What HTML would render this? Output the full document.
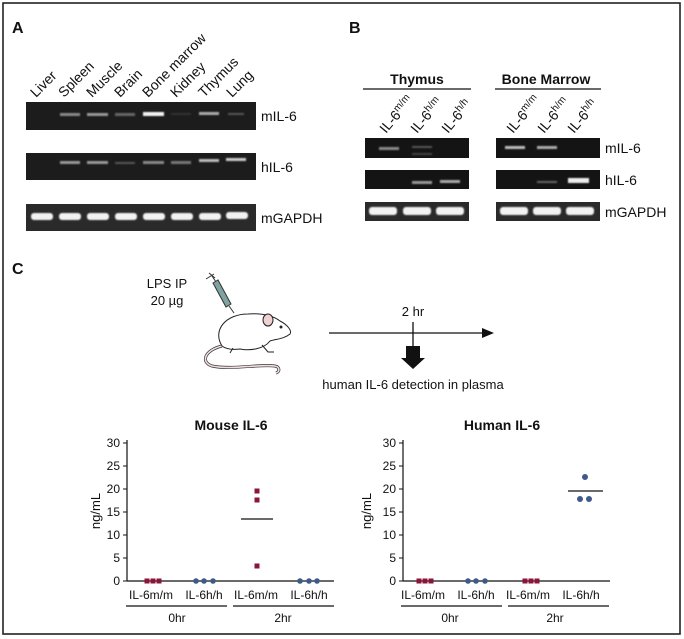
<!DOCTYPE html>
<html><head><meta charset="utf-8"><style>
html,body{margin:0;padding:0;background:#fff}
svg{display:block}
text{font-family:"Liberation Sans",Arial,sans-serif;fill:#111}
</style></head><body>
<svg width="684" height="639" viewBox="0 0 684 639" xmlns="http://www.w3.org/2000/svg">
<defs>
<filter id="blur" x="-20%" y="-50%" width="140%" height="200%"><feGaussianBlur stdDeviation="0.8"/></filter>
</defs>
<rect x="3" y="3" width="677" height="631" fill="#fff" stroke="#222" stroke-width="1.6"/>

<!-- Panel A -->
<text x="12" y="33" font-size="16" font-weight="bold">A</text>
<g font-size="14">
<text transform="translate(36,98) rotate(-45)">Liver</text>
<text transform="translate(64,98) rotate(-45)">Spleen</text>
<text transform="translate(92,98) rotate(-45)">Muscle</text>
<text transform="translate(120,98) rotate(-45)">Brain</text>
<text transform="translate(148,98) rotate(-45)">Bone marrow</text>
<text transform="translate(176,98) rotate(-45)">Kidney</text>
<text transform="translate(204,98) rotate(-45)">Thymus</text>
<text transform="translate(232,98) rotate(-45)">Lung</text>
</g>
<rect x="26" y="102" width="230" height="28" fill="#1c1c1c"/>
<rect x="26" y="153" width="230" height="27" fill="#1c1c1c"/>
<rect x="26" y="204" width="230" height="27" fill="#2a2a2a"/>
<g filter="url(#blur)">
<rect x="60" y="113" width="20" height="3" fill="#888"/>
<rect x="87" y="113" width="21" height="3" fill="#999"/>
<rect x="115" y="113" width="20" height="3" fill="#666"/>
<rect x="143" y="112" width="21" height="4" fill="#f4f4f4"/>
<rect x="171" y="113" width="20" height="2" fill="#333"/>
<rect x="199" y="112" width="20" height="3" fill="#aaa"/>
<rect x="228" y="113" width="16" height="2" fill="#555"/>

<rect x="60" y="161" width="20" height="3" fill="#999"/>
<rect x="87" y="161" width="21" height="3" fill="#999"/>
<rect x="115" y="162" width="20" height="2" fill="#555"/>
<rect x="143" y="161" width="21" height="3" fill="#888"/>
<rect x="171" y="161" width="20" height="3" fill="#777"/>
<rect x="199" y="159" width="20" height="3" fill="#bbb"/>
<rect x="226" y="158" width="20" height="3" fill="#ccc"/>

<rect x="31" y="213" width="22" height="7" rx="3" fill="#f2f2f2"/>
<rect x="59" y="213" width="22" height="7" rx="3" fill="#f2f2f2"/>
<rect x="87" y="213" width="22" height="7" rx="3" fill="#f2f2f2"/>
<rect x="115" y="213" width="22" height="7" rx="3" fill="#f2f2f2"/>
<rect x="143" y="213" width="22" height="7" rx="3" fill="#f2f2f2"/>
<rect x="171" y="213" width="22" height="7" rx="3" fill="#f2f2f2"/>
<rect x="199" y="213" width="22" height="7" rx="3" fill="#f2f2f2"/>
<rect x="226" y="212" width="22" height="7" rx="3" fill="#f2f2f2"/>
</g>
<g font-size="14">
<text x="261" y="121">mIL-6</text>
<text x="261" y="172">hIL-6</text>
<text x="261" y="223">mGAPDH</text>
</g>

<!-- Panel B -->
<text x="349" y="33" font-size="16" font-weight="bold">B</text>
<text x="417" y="84" font-size="14" font-weight="bold" text-anchor="middle">Thymus</text>
<text x="546" y="84" font-size="14" font-weight="bold" text-anchor="middle">Bone Marrow</text>
<line x1="363" y1="89" x2="471" y2="89" stroke="#111" stroke-width="1.2"/>
<line x1="495" y1="89" x2="601" y2="89" stroke="#111" stroke-width="1.2"/>
<g font-size="14">
<text transform="translate(386,134) rotate(-50)">IL-6<tspan font-size="10" dy="-5">m/m</tspan></text>
<text transform="translate(417,134) rotate(-50)">IL-6<tspan font-size="10" dy="-5">h/m</tspan></text>
<text transform="translate(448,134) rotate(-50)">IL-6<tspan font-size="10" dy="-5">h/h</tspan></text>
<text transform="translate(513,134) rotate(-50)">IL-6<tspan font-size="10" dy="-5">m/m</tspan></text>
<text transform="translate(544,134) rotate(-50)">IL-6<tspan font-size="10" dy="-5">h/m</tspan></text>
<text transform="translate(574,134) rotate(-50)">IL-6<tspan font-size="10" dy="-5">h/h</tspan></text>
</g>
<rect x="365" y="138" width="104" height="20" fill="#141414"/>
<rect x="365" y="170" width="104" height="19" fill="#141414"/>
<rect x="365" y="202" width="104" height="19" fill="#2a2a2a"/>
<rect x="496" y="138" width="104" height="20" fill="#141414"/>
<rect x="496" y="170" width="104" height="19" fill="#141414"/>
<rect x="496" y="202" width="104" height="19" fill="#2a2a2a"/>
<g filter="url(#blur)">
<rect x="379" y="147" width="20" height="3" fill="#888"/>
<rect x="412" y="146" width="20" height="2" fill="#555"/>
<rect x="412" y="153" width="20" height="2" fill="#444"/>
<rect x="412" y="181" width="20" height="3" fill="#999"/>
<rect x="440" y="180" width="20" height="3" fill="#aaa"/>
<rect x="505" y="146" width="20" height="3" fill="#bbb"/>
<rect x="537" y="146" width="20" height="3" fill="#aaa"/>
<rect x="537" y="181" width="20" height="2" fill="#666"/>
<rect x="568" y="178" width="21" height="5" fill="#eee"/>
<rect x="369" y="207" width="28" height="8" rx="3" fill="#f2f2f2"/>
<rect x="403" y="207" width="28" height="8" rx="3" fill="#f2f2f2"/>
<rect x="436" y="207" width="28" height="8" rx="3" fill="#f2f2f2"/>
<rect x="500" y="207" width="28" height="8" rx="3" fill="#f2f2f2"/>
<rect x="533" y="207" width="28" height="8" rx="3" fill="#f2f2f2"/>
<rect x="566" y="207" width="28" height="8" rx="3" fill="#f2f2f2"/>
</g>
<g font-size="14">
<text x="605" y="153">mIL-6</text>
<text x="605" y="185">hIL-6</text>
<text x="605" y="217">mGAPDH</text>
</g>

<!-- Panel C -->
<text x="12" y="274" font-size="16" font-weight="bold">C</text>
<text x="167" y="288" font-size="13" text-anchor="middle">LPS IP</text>
<text x="167" y="305" font-size="13" text-anchor="middle">20 µg</text>
<!-- syringe -->
<g stroke="#333" stroke-width="1">
<line x1="209" y1="273" x2="215" y2="278"/>
<line x1="206" y1="279" x2="214" y2="274"/>
<line x1="212" y1="276" x2="216" y2="282"/>
<polygon points="213,283 218,280 231,304 226,307" fill="#7fa3a0"/>
<line x1="229" y1="306" x2="234" y2="313"/>
</g>
<!-- mouse -->
<g stroke="#222" stroke-width="1" fill="#fff">
<path d="M222,346 C205,350 200,362 212,366 C230,370 260,364 275,366 C280,367 280,372 276,373" fill="none" stroke-width="3" stroke="#333"/>
<path d="M222,346 C205,350 200,362 212,366 C230,370 260,364 275,366 C280,367 280,372 276,373" fill="none" stroke-width="1.6" stroke="#f2dede"/>
<path d="M222,346 C212,330 226,314 248,314 C262,313 272,315 280,321 C288,325 292,331 290,334 C284,339 276,339 270,341 C264,349 250,351 240,349 C232,350 226,349 222,346 Z"/>
<ellipse cx="268" cy="320" rx="5" ry="6" fill="#f0d0d0"/>
<circle cx="281" cy="327" r="1" fill="#222"/>
<path d="M233,348 L230,353 M262,345 L268,352 L274,352" fill="none"/>
</g>
<!-- timeline -->
<line x1="329" y1="333" x2="485" y2="333" stroke="#111" stroke-width="1.3"/>
<polygon points="482,328 494,333 482,338" fill="#111"/>
<line x1="413" y1="322" x2="413" y2="346" stroke="#111" stroke-width="1.3"/>
<text x="413" y="316" font-size="13" text-anchor="middle">2 hr</text>
<polygon points="406,346 420,346 420,358 425,358 413,369 401,358 406,358" fill="#111"/>
<text x="413" y="389" font-size="13" text-anchor="middle">human IL-6 detection in plasma</text>

<!-- Mouse IL-6 chart -->
<g>
<text x="231" y="430" font-size="14" font-weight="bold" text-anchor="middle">Mouse IL-6</text>
<line x1="127" y1="440" x2="127" y2="581" stroke="#111" stroke-width="1.2"/>
<line x1="127" y1="581" x2="334" y2="581" stroke="#111" stroke-width="1.2"/>
<g stroke="#111" stroke-width="1">
<line x1="123" y1="443" x2="127" y2="443"/><line x1="123" y1="466" x2="127" y2="466"/><line x1="123" y1="489" x2="127" y2="489"/><line x1="123" y1="512" x2="127" y2="512"/><line x1="123" y1="535" x2="127" y2="535"/><line x1="123" y1="558" x2="127" y2="558"/><line x1="123" y1="581" x2="127" y2="581"/>
</g>
<g font-size="12" text-anchor="end">
<text x="120" y="447">30</text><text x="120" y="470">25</text><text x="120" y="493">20</text><text x="120" y="516">15</text><text x="120" y="539">10</text><text x="120" y="562">5</text><text x="120" y="585">0</text>
</g>
<text transform="translate(100,511) rotate(-90)" font-size="13" text-anchor="middle">ng/mL</text>
<g font-size="12" text-anchor="middle">
<text x="151" y="599">IL-6m/m</text><text x="204" y="599">IL-6h/h</text><text x="256" y="599">IL-6m/m</text><text x="309" y="599">IL-6h/h</text>
<text x="177" y="622">0hr</text><text x="283" y="622">2hr</text>
</g>
<line x1="126" y1="606" x2="227" y2="606" stroke="#111" stroke-width="1.2"/>
<line x1="233" y1="606" x2="334" y2="606" stroke="#111" stroke-width="1.2"/>
</g>
<g fill="#8b1538">
<rect x="144.5" y="578.5" width="5" height="5"/><rect x="150.5" y="578.5" width="5" height="5"/><rect x="156.5" y="578.5" width="5" height="5"/>
<rect x="254.5" y="488.5" width="5" height="5"/><rect x="254.5" y="497.5" width="5" height="5"/><rect x="254.5" y="563.5" width="5" height="5"/>
</g>
<line x1="241" y1="519" x2="273" y2="519" stroke="#111" stroke-width="1.2"/>
<g fill="#3e5a8a">
<circle cx="196" cy="581" r="2.8"/><circle cx="204" cy="581" r="2.8"/><circle cx="213" cy="581" r="2.8"/>
<circle cx="300" cy="581" r="2.8"/><circle cx="309" cy="581" r="2.8"/><circle cx="317" cy="581" r="2.8"/>
</g>

<!-- Human IL-6 chart -->
<g transform="translate(276,0)">
<text x="226" y="430" font-size="14" font-weight="bold" text-anchor="middle">Human IL-6</text>
<line x1="127" y1="440" x2="127" y2="581" stroke="#111" stroke-width="1.2"/>
<line x1="127" y1="581" x2="334" y2="581" stroke="#111" stroke-width="1.2"/>
<g stroke="#111" stroke-width="1">
<line x1="123" y1="443" x2="127" y2="443"/><line x1="123" y1="466" x2="127" y2="466"/><line x1="123" y1="489" x2="127" y2="489"/><line x1="123" y1="512" x2="127" y2="512"/><line x1="123" y1="535" x2="127" y2="535"/><line x1="123" y1="558" x2="127" y2="558"/><line x1="123" y1="581" x2="127" y2="581"/>
</g>
<g font-size="12" text-anchor="end">
<text x="120" y="447">30</text><text x="120" y="470">25</text><text x="120" y="493">20</text><text x="120" y="516">15</text><text x="120" y="539">10</text><text x="120" y="562">5</text><text x="120" y="585">0</text>
</g>
<text transform="translate(95,511) rotate(-90)" font-size="13" text-anchor="middle">ng/mL</text>
<g font-size="12" text-anchor="middle">
<text x="147" y="599">IL-6m/m</text><text x="200" y="599">IL-6h/h</text><text x="252" y="599">IL-6m/m</text><text x="305" y="599">IL-6h/h</text>
<text x="174" y="622">0hr</text><text x="279" y="622">2hr</text>
</g>
<line x1="125" y1="606" x2="226" y2="606" stroke="#111" stroke-width="1.2"/>
<line x1="232" y1="606" x2="333" y2="606" stroke="#111" stroke-width="1.2"/>
<g fill="#8b1538">
<rect x="140.5" y="578.5" width="5" height="5"/><rect x="146.5" y="578.5" width="5" height="5"/><rect x="152.5" y="578.5" width="5" height="5"/>
<rect x="246.5" y="578.5" width="5" height="5"/><rect x="252.5" y="578.5" width="5" height="5"/><rect x="258.5" y="578.5" width="5" height="5"/>
</g>
<g fill="#3e5a8a">
<circle cx="192" cy="581" r="2.8"/><circle cx="200" cy="581" r="2.8"/><circle cx="209" cy="581" r="2.8"/>
<circle cx="309" cy="477" r="3"/><circle cx="304" cy="499" r="3"/><circle cx="313" cy="499" r="3"/>
</g>
<line x1="292" y1="491" x2="327" y2="491" stroke="#111" stroke-width="1.2"/>
</g>
</svg>
</body></html>
